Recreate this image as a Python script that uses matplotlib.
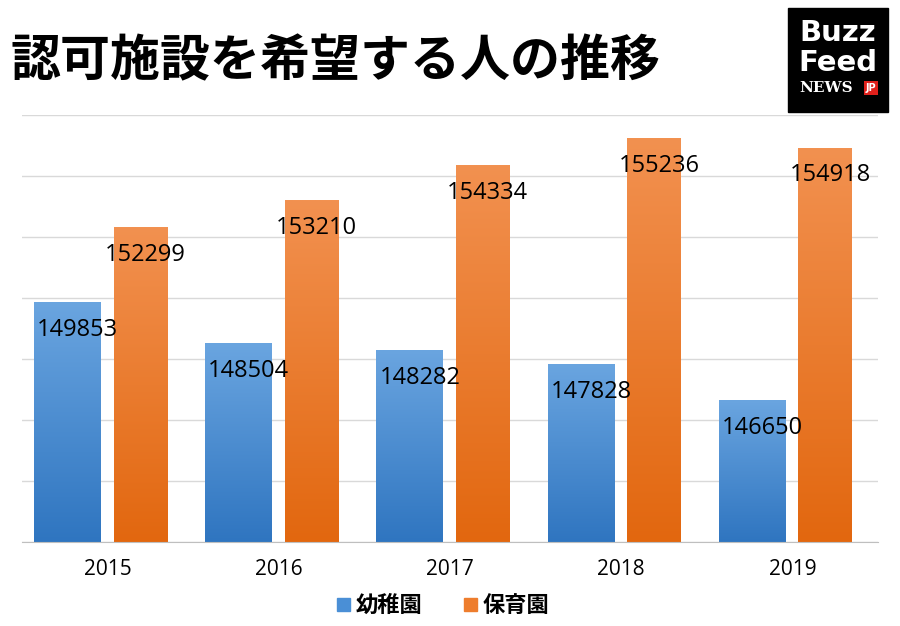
import matplotlib
matplotlib.use("Agg")
import matplotlib.pyplot as plt
import numpy as np
from matplotlib.colors import LinearSegmentedColormap
from matplotlib.patches import Rectangle

years = ["2015", "2016", "2017", "2018", "2019"]
kinder = [149853, 148504, 148282, 147828, 146650]
nursery = [152299, 153210, 154334, 155236, 154918]
title = "認可施設を希望する人の推移"
ymin, ymax = 142000, 156000

W, H = 900, 626
fig = plt.figure(figsize=(9, 6.26), dpi=100)
ax = fig.add_axes([22/W, (H-542)/H, (878-22)/W, (542-115)/H])
for s in ax.spines.values():
    s.set_visible(False)
ax.spines['bottom'].set_visible(True)
ax.spines['bottom'].set_color('#bfbfbf')
ax.set_yticks(np.arange(ymin, ymax + 1, 2000))
ax.yaxis.grid(True, color='#d9d9d9', lw=1)
ax.set_axisbelow(True)
ax.tick_params(axis='y', left=False, labelleft=False)
ax.tick_params(axis='x', length=0, pad=12)
ax.set_xticks(range(5))
ax.set_xticklabels(years, fontsize=15, fontfamily='Open Sans')

blue = LinearSegmentedColormap.from_list('b', ['#2f75c0', '#6aa5e0'])
orng = LinearSegmentedColormap.from_list('o', ['#e2670f', '#f29150'])
grad = np.linspace(0, 1, 256).reshape(-1, 1)

def gbar(xc, w, val, cmap):
    ax.imshow(grad, extent=[xc - w/2, xc + w/2, ymin, val], origin='lower',
              aspect='auto', cmap=cmap, zorder=2)

for i in range(5):
    xb, xo = i - 0.235, i + 0.19
    gbar(xb, 0.39, kinder[i], blue)
    gbar(xo, 0.31, nursery[i], orng)
    ax.text(xb + 0.06, kinder[i] - 900, str(kinder[i]), ha='center', va='center',
            fontsize=17, fontfamily='Open Sans', zorder=3)
    ax.text(xo + 0.03, nursery[i] - 900, str(nursery[i]), ha='center', va='center',
            fontsize=17, fontfamily='Open Sans', zorder=3)
ax.set_xlim(-0.5, 4.5)
ax.set_ylim(ymin, ymax)

fig.text(10/W, 1 - 62/H, title, fontsize=36, fontweight='bold',
         fontfamily='Noto Sans CJK JP', va='center', ha='left')

# logo
fig.patches.append(Rectangle((788/W, 1 - 112/H), 100/W, 104/H, transform=fig.transFigure,
                             color='black', zorder=5))
fig.text(838/W, 1 - 33/H, "Buzz", color='white', fontsize=21, fontweight='bold',
         ha='center', va='center', fontfamily='DejaVu Sans', zorder=6)
fig.text(838/W, 1 - 63/H, "Feed", color='white', fontsize=21, fontweight='bold',
         ha='center', va='center', fontfamily='DejaVu Sans', zorder=6)
fig.text(826/W, 1 - 88/H, "NEWS", color='white', fontsize=11, fontweight='bold',
         ha='center', va='center', fontfamily='DejaVu Serif', zorder=6)
fig.text(871/W, 1 - 88/H, "JP", color='white', fontsize=7, fontweight='bold',
         ha='center', va='center', zorder=7,
         bbox=dict(facecolor='#e0201b', edgecolor='none', pad=1.5))

# legend
fig.patches.append(Rectangle((337/W, 1 - 611/H), 13/W, 13/H, transform=fig.transFigure,
                             color='#4a8fd6'))
fig.text(356/W, 1 - 605/H, "幼稚園", fontsize=16, fontweight='bold',
         fontfamily='Noto Sans CJK JP', va='center')
fig.patches.append(Rectangle((464/W, 1 - 611/H), 13/W, 13/H, transform=fig.transFigure,
                             color='#ee7d2d'))
fig.text(483/W, 1 - 605/H, "保育園", fontsize=16, fontweight='bold',
         fontfamily='Noto Sans CJK JP', va='center')

fig.savefig("out.png", dpi=100)
